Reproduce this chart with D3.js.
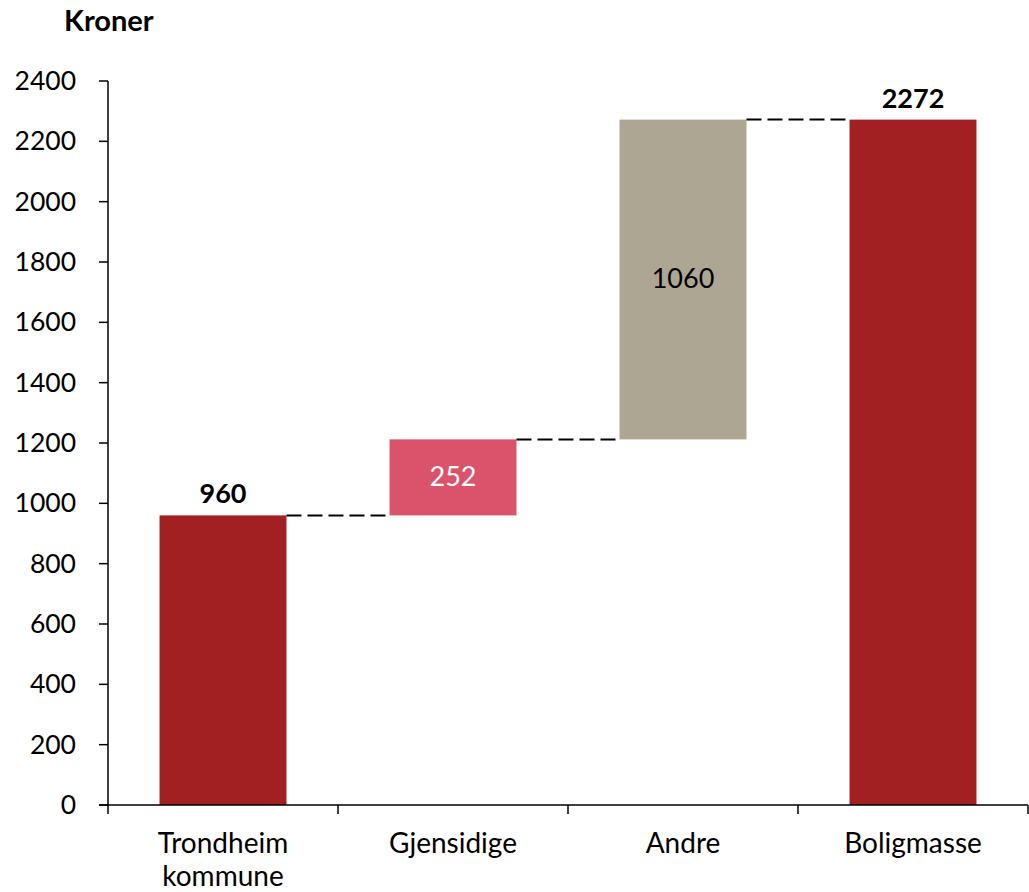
<!DOCTYPE html>
<html>
<head>
<meta charset="utf-8">
<script src="https://cdn.jsdelivr.net/npm/d3@7"></script>
<style>
  body { margin: 0; background: #fff; }
  text { font-family: Lato, "Open Sans", sans-serif; fill: #000; }
</style>
</head>
<body>
<svg id="chart" width="1029" height="892"></svg>
<script>
// data
let categories = [["Trondheim", "kommune"], ["Gjensidige"], ["Andre"], ["Boligmasse"]]
let values = [960, 252, 1060, 2272]
let kinds = ["total", "delta", "delta", "total"]
let colors = ["#a21f22", "#db536b", "#ada692", "#a21f22"]
let yTicks = [0, 200, 400, 600, 800, 1000, 1200, 1400, 1600, 1800, 2000, 2200, 2400]

let width = 1029,
  height = 892,
  svg = d3.select("#chart")

let bars = []
let run = 0
values.forEach((v, i) => {
  let base = kinds[i] == "total" ? 0 : run
  let top = kinds[i] == "total" ? v : run + v
  run = top
  bars.push({ i: i, value: v, base: base, top: top, kind: kinds[i], color: colors[i] })
})

let x = d3.scaleBand()
  .domain(d3.range(categories.length))
  .range([108, 1028])
  .paddingInner(0.448)
  .paddingOuter(0.224)

let y = d3.scaleLinear()
  .domain([0, 2400])
  .range([805, 81])

// bars
svg.append("g")
  .selectAll("rect")
  .data(bars).enter()
  .append("rect")
  .attr("x", d => x(d.i))
  .attr("width", x.bandwidth())
  .attr("y", d => y(d.top))
  .attr("height", d => y(d.base) - y(d.top))
  .attr("fill", d => d.color)

// connectors
svg.append("g")
  .selectAll("line")
  .data(bars.slice(0, -1)).enter()
  .append("line")
  .attr("x1", d => x(d.i) + x.bandwidth())
  .attr("x2", d => x(d.i + 1))
  .attr("y1", d => y(d.top))
  .attr("y2", d => y(d.top))
  .attr("stroke", "#000")
  .attr("stroke-width", 2)
  .attr("stroke-dasharray", "15,6")

// value labels
svg.append("g")
  .selectAll("text")
  .data(bars).enter()
  .append("text")
  .attr("x", d => x(d.i) + x.bandwidth() / 2)
  .attr("y", d => d.kind == "total" ? y(d.top) - 12 : (y(d.top) + y(d.base)) / 2 + 9)
  .attr("text-anchor", "middle")
  .style("font-size", "27px")
  .style("font-weight", d => d.kind == "total" ? "bold" : "normal")
  .style("fill", d => d.i == 1 ? "#fff" : "#000")
  .text(d => d.value)

// y axis
let yAxis = svg.append("g")
yAxis.append("line")
  .attr("x1", 108).attr("x2", 108)
  .attr("y1", y(2400)).attr("y2", y(0))
  .attr("stroke", "#000").attr("stroke-width", 1.5)
yAxis.selectAll("line.tick")
  .data(yTicks).enter()
  .append("line")
  .attr("class", "tick")
  .attr("x1", 99).attr("x2", 108)
  .attr("y1", d => y(d)).attr("y2", d => y(d))
  .attr("stroke", "#000").attr("stroke-width", 1.5)
yAxis.selectAll("text")
  .data(yTicks).enter()
  .append("text")
  .attr("x", 76)
  .attr("y", d => y(d) + 9)
  .attr("text-anchor", "end")
  .style("font-size", "26.5px")
  .text(d => d)

// x axis
let xAxis = svg.append("g")
xAxis.append("line")
  .attr("x1", 99).attr("x2", 1028)
  .attr("y1", y(0)).attr("y2", y(0))
  .attr("stroke", "#000").attr("stroke-width", 1.5)
let bounds = d3.range(categories.length + 1).map(i => 108 + i * x.step())
xAxis.selectAll("line.tick")
  .data(bounds).enter()
  .append("line")
  .attr("class", "tick")
  .attr("x1", d => d).attr("x2", d => d)
  .attr("y1", y(0)).attr("y2", y(0) + 9)
  .attr("stroke", "#000").attr("stroke-width", 1.5)
xAxis.selectAll("text")
  .data(categories).enter()
  .append("text")
  .attr("x", (d, i) => x(i) + x.bandwidth() / 2)
  .attr("y", 853)
  .attr("text-anchor", "middle")
  .style("font-size", "28px")
  .each(function(d) {
    d3.select(this).selectAll("tspan")
      .data(d).enter()
      .append("tspan")
      .attr("x", d3.select(this).attr("x"))
      .attr("dy", (t, j) => j == 0 ? 0 : 33)
      .text(t => t)
  })

// unit title
svg.append("text")
  .attr("x", 64)
  .attr("y", 31)
  .style("font-size", "29px")
  .style("font-weight", "bold")
  .text("Kroner")
</script>
</body>
</html>
